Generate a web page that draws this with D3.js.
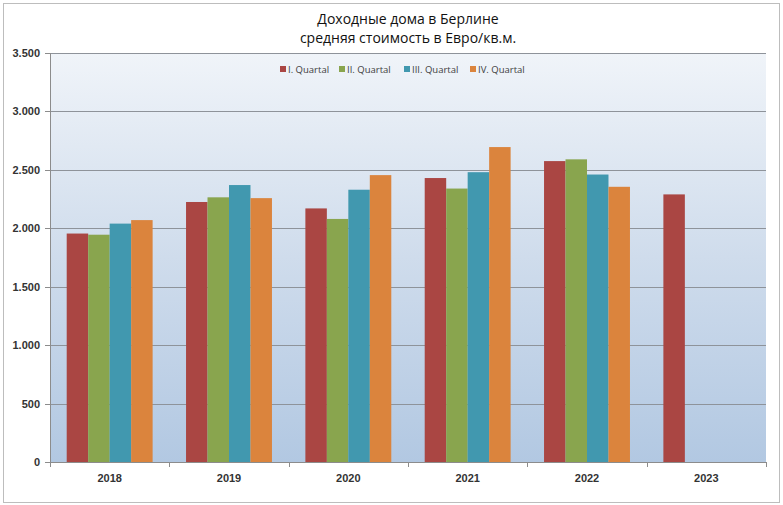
<!DOCTYPE html>
<meta charset="utf-8">
<style>
body { margin: 0; background: #fff; }
svg { display: block; font-family: "Open Sans", "Liberation Sans", sans-serif; }
.axis path { display: none; }
.axis text { font-weight: bold; font-size: 11px; fill: #333; }
.axis line { stroke: #8c8c8c; shape-rendering: crispEdges; }
</style>
<body>
<div id="chart"></div>
<script src="https://cdnjs.cloudflare.com/ajax/libs/d3/7.8.5/d3.min.js"></script>
<script>
// data
var years = ["2018", "2019", "2020", "2021", "2022", "2023"];
var quarters = ["I. Quartal", "II. Quartal", "III. Quartal", "IV. Quartal"];
var q1 = [1955, 2225, 2170, 2430, 2575, 2290];
var q2 = [1945, 2265, 2080, 2340, 2590, null];
var q3 = [2040, 2370, 2330, 2480, 2460, null];
var q4 = [2070, 2258, 2455, 2695, 2355, null];
var yTicks = [0, 500, 1000, 1500, 2000, 2500, 3000, 3500];
var colors = ["#aa4643", "#89a54e", "#4198af", "#db843d"];
var series = [q1, q2, q3, q4];

var width = 783, height = 505;
var margin = { top: 53, right: 17, bottom: 43, left: 50 };
var innerW = width - margin.left - margin.right,
    innerH = height - margin.top - margin.bottom;

var svg = d3.select("#chart").append("svg")
    .attr("width", width)
    .attr("height", height);

// outer frame
svg.append("rect")
    .attr("x", 3.5).attr("y", 3.5)
    .attr("width", 776).attr("height", 499)
    .attr("fill", "#fff")
    .attr("stroke", "#bdbdbd");

var grad = svg.append("defs").append("linearGradient")
    .attr("id", "bg").attr("x1", 0).attr("y1", 0).attr("x2", 0).attr("y2", 1);
grad.append("stop").attr("offset", "0%").attr("stop-color", "#f0f4f9");
grad.append("stop").attr("offset", "50%").attr("stop-color", "#cfdcec");
grad.append("stop").attr("offset", "100%").attr("stop-color", "#b2c8e2");

var g = svg.append("g").attr("transform", "translate(" + margin.left + "," + margin.top + ")");

g.append("rect")
    .attr("width", innerW).attr("height", innerH)
    .attr("fill", "url(#bg)");

var x0 = d3.scaleBand().domain(years).range([0, innerW]);
var x1 = d3.scaleBand().domain(quarters)
    .range([x0.bandwidth() * 0.14, x0.bandwidth() * 0.86]);
var y = d3.scaleLinear().domain([0, 3500]).range([innerH, 0]);

var fmt = d3.formatLocale({ decimal: ",", thousands: ".", grouping: [3], currency: ["", "€"] }).format(",");

// gridlines
g.append("g").selectAll("line")
    .data(yTicks.filter(function (d) { return d > 0; }))
    .enter().append("line")
    .attr("x1", 0).attr("x2", innerW)
    .attr("y1", function (d) { return Math.round(y(d)) + 0.5; })
    .attr("y2", function (d) { return Math.round(y(d)) + 0.5; })
    .attr("stroke", "#8e939a");

// bars
series.forEach(function (vals, i) {
    g.append("g").selectAll("rect")
        .data(vals.map(function (v, j) { return { year: years[j], v: v }; })
            .filter(function (d) { return d.v != null; }))
        .enter().append("rect")
        .attr("x", function (d) { return x0(d.year) + x1(quarters[i]); })
        .attr("width", x1.bandwidth())
        .attr("y", function (d) { return y(d.v); })
        .attr("height", function (d) { return innerH - y(d.v); })
        .attr("fill", colors[i]);
});

// axes
var yAxis = d3.axisLeft(y).tickValues(yTicks).tickSize(5).tickPadding(5).tickFormat(fmt);
g.append("g").attr("class", "axis").call(yAxis);
g.append("line").attr("x1", 0.5).attr("x2", 0.5).attr("y1", 0).attr("y2", innerH)
    .attr("stroke", "#8c8c8c");

var xAxis = d3.axisBottom(x0).tickSize(0).tickPadding(12);
g.append("g").attr("class", "axis").attr("transform", "translate(0," + innerH + ")").call(xAxis);
g.append("line").attr("x1", 0).attr("x2", innerW).attr("y1", innerH + 0.5).attr("y2", innerH + 0.5)
    .attr("stroke", "#8c8c8c");
// category boundary ticks
g.append("g").selectAll("line")
    .data(years.concat(["end"]))
    .enter().append("line")
    .attr("x1", function (d, i) { return Math.round(i * x0.step()) + 0.5; })
    .attr("x2", function (d, i) { return Math.round(i * x0.step()) + 0.5; })
    .attr("y1", innerH).attr("y2", innerH + 5)
    .attr("stroke", "#8c8c8c");

// title
var cx = margin.left + innerW / 2;
svg.append("text").attr("x", cx).attr("y", 24).attr("text-anchor", "middle")
    .style("font-size", "14px").attr("fill", "#111").text("Доходные дома в Берлине");
svg.append("text").attr("x", cx).attr("y", 43).attr("text-anchor", "middle")
    .style("font-size", "14px").attr("fill", "#111").text("средняя стоимость в Евро/кв.м.");

// legend
var legendX = [280, 339, 404, 470];
var leg = svg.append("g").selectAll("g").data(quarters).enter().append("g")
    .attr("transform", function (d, i) { return "translate(" + legendX[i] + ",69)"; });
leg.append("rect").attr("x", 0).attr("y", -3).attr("width", 6).attr("height", 6)
    .attr("fill", function (d, i) { return colors[i]; });
leg.append("text").attr("x", 8).attr("y", 3.5)
    .style("font-size", "9.5px").attr("fill", "#404040").text(function (d) { return d; });
</script>
</body>
